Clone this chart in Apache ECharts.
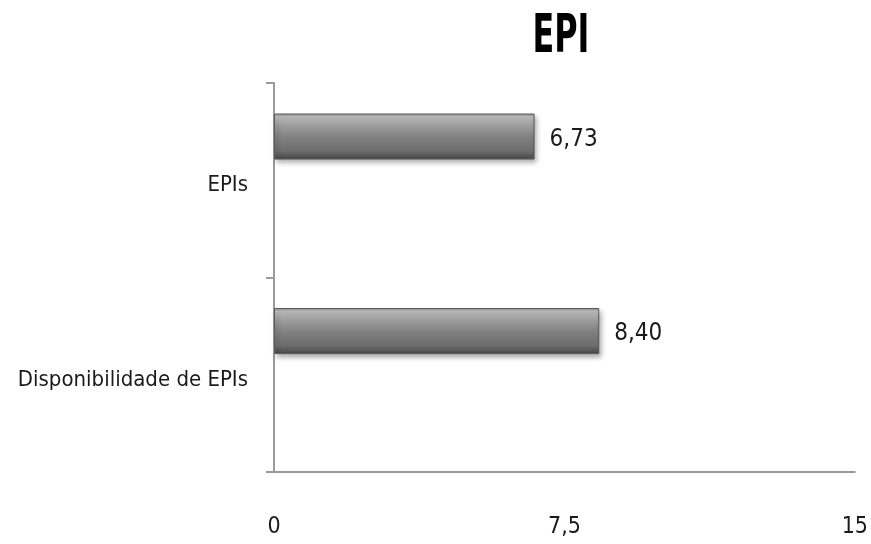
<!DOCTYPE html>
<html>
<head>
<meta charset="utf-8">
<script src="https://cdn.jsdelivr.net/npm/echarts@6/dist/echarts.min.js"></script>
<style>
  html, body { margin: 0; padding: 0; background: #ffffff; }
  #chart { width: 871px; height: 544px; }
</style>
</head>
<body>
<div id="chart"></div>
<script>
// Categories listed bottom to top (category axis grows upward)
const categories = ["Disponibilidade de EPIs", "EPIs"];
const scores = [8.40, 6.73];
const xTicks = [0, 7.5, 15];
const chartTitle = "EPI";

const FONT = '"Liberation Sans Narrow", "DejaVu Sans Condensed", "DejaVu Sans", sans-serif';
const decimalComma = v => String(v).replace('.', ',');

const barFill = new echarts.graphic.LinearGradient(0, 0, 0, 1, [
  { offset: 0.00, color: '#8e8e8e' },
  { offset: 0.07, color: '#c0c0c0' },
  { offset: 0.24, color: '#a0a0a0' },
  { offset: 0.50, color: '#828282' },
  { offset: 0.82, color: '#6c6c6c' },
  { offset: 1.00, color: '#474747' }
]);

const chart = echarts.init(document.getElementById('chart'), null, { renderer: 'canvas' });
chart.setOption({
  animation: false,
  backgroundColor: '#ffffff',
  // Tall, narrow bold heading
  graphic: [{
    type: 'text',
    x: 561,
    y: 38,
    scaleX: 0.68,
    scaleY: 1.02,
    style: {
      text: chartTitle,
      fontFamily: FONT,
      fontSize: 52,
      fontWeight: 'bold',
      fill: '#000000',
      align: 'center',
      verticalAlign: 'middle'
    }
  }],
  grid: { left: 274, right: 13, top: 83, bottom: 72, containLabel: false },
  xAxis: {
    type: 'value',
    min: xTicks[0],
    max: xTicks[xTicks.length - 1],
    interval: xTicks[1] - xTicks[0],
    axisLine: { show: true, lineStyle: { color: '#9a9a9a', width: 2 } },
    axisTick: { show: false },
    splitLine: { show: false },
    axisLabel: {
      margin: 44,
      fontFamily: FONT, fontSize: 23, color: '#1a1a1a',
      formatter: v => decimalComma(v)
    }
  },
  yAxis: {
    type: 'category',
    data: categories,
    boundaryGap: true,
    axisLine: { show: true, lineStyle: { color: '#9a9a9a', width: 2 } },
    axisTick: { show: true, length: 8, lineStyle: { color: '#9a9a9a', width: 2 } },
    axisLabel: {
      margin: 26,
      formatter: v => '{c|' + v + '}',
      rich: {
        c: {
          padding: [11, 0, 0, 0],
          fontFamily: FONT, fontSize: 22, color: '#1a1a1a'
        }
      }
    }
  },
  series: [
    {
      name: 'EPI',
      type: 'bar',
      data: scores,
      barWidth: 46,
      barGap: '90%',
      itemStyle: {
        color: barFill,
        borderColor: '#5a5a5a',
        borderWidth: 1,
        shadowColor: 'rgba(0,0,0,0.35)',
        shadowBlur: 5,
        shadowOffsetX: 2,
        shadowOffsetY: 3
      },
      label: {
        show: true,
        position: 'right',
        distance: 15,
        offset: [0, 3],
        fontFamily: FONT, fontSize: 24, color: '#1a1a1a',
        formatter: p => decimalComma(p.value.toFixed(2))
      }
    },
    {
      name: 'spacer',
      type: 'bar',
      data: [null, null],
      barWidth: 46,
      silent: true
    }
  ]
});
</script>
</body>
</html>
